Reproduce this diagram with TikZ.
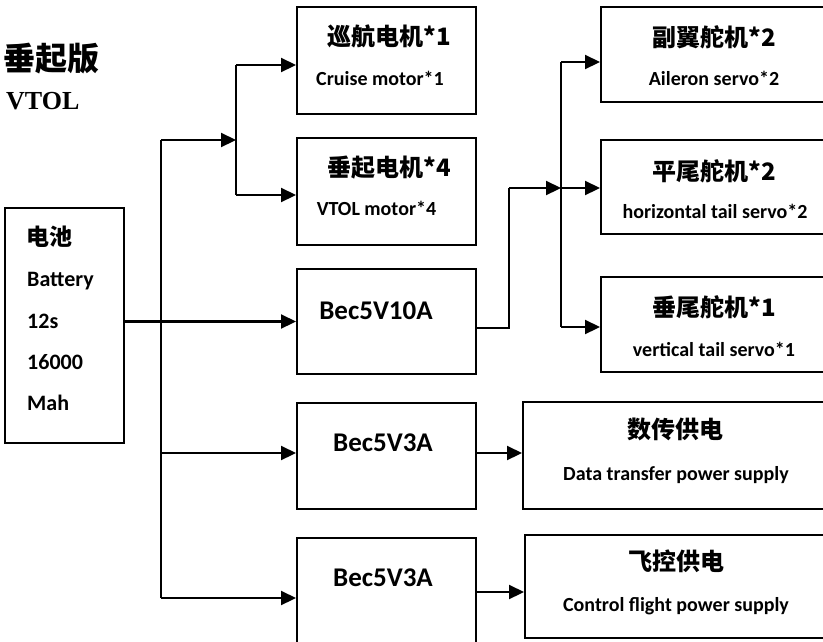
\documentclass[tikz,border=0pt]{standalone}
\usepackage{fontspec}
\setmainfont{Carlito}
\newfontfamily\cjk{Noto Sans CJK SC}
\newfontfamily\tnr{Liberation Serif}
\usetikzlibrary{arrows.meta}
\tikzset{
  box/.style={draw, line width=2pt, inner sep=0pt},
  arr/.style={line width=2.2pt, -{Triangle[length=15pt,width=14pt]}},
  ln/.style={line width=2.2pt},
  lbl/.style={inner sep=0pt, text height=0.62em, text depth=0pt, font=\fontsize{20}{24}\selectfont\bfseries},
  zh/.style={inner sep=0pt, text height=0.74em, text depth=0pt, font=\fontsize{24}{28}\selectfont\bfseries\cjk},
  big/.style={inner sep=0pt, text height=0.62em, text depth=0pt, font=\fontsize{27}{32}\selectfont\bfseries},
  bat/.style={inner sep=0pt, anchor=west, text height=0.62em, text depth=0pt, font=\fontsize{22}{26}\selectfont\bfseries},
}
\begin{document}
\begin{tikzpicture}[x=1pt, y=-1pt]
\useasboundingbox (0,0) rectangle (823,641);
\clip (0,0) rectangle (823,641);
% title
\node[inner sep=0pt, anchor=west, text height=0.76em, text depth=0pt, font=\fontsize{32}{36}\selectfont\bfseries] (t1) at (3,67) {\cjk 垂起版};
\node[inner sep=0pt, anchor=west, text height=0.66em, text depth=0pt, font=\fontsize{26}{30}\selectfont\bfseries\tnr] (t2) at (6,106.5) {VTOL};
% boxes
\node[box, minimum width=119pt, minimum height=235pt] (bat) at (64.5,325.5) {};
\node[box, minimum width=179pt, minimum height=107pt] (cru) at (386.5,60.5) {};
\node[box, minimum width=179pt, minimum height=107pt] (vtm) at (386.5,191.5) {};
\node[box, minimum width=179pt, minimum height=105pt] (b10) at (386.5,321.5) {};
\node[box, minimum width=179pt, minimum height=106pt] (b31) at (386.5,456) {};
\node[box, minimum width=179pt, minimum height=122pt] (b32) at (386.5,599) {};
\node[box, minimum width=239pt, minimum height=95pt] (ail) at (720.5,54.5) {};
\node[box, minimum width=239pt, minimum height=94pt] (hor) at (720.5,187) {};
\node[box, minimum width=239pt, minimum height=95pt] (ver) at (720.5,324.5) {};
\node[box, minimum width=317pt, minimum height=107pt] (dat) at (681.5,455.5) {};
\node[box, minimum width=315pt, minimum height=103pt] (ctl) at (682.5,586.5) {};
% texts
\node[bat] (bt1) at (26,242) {\cjk\fontsize{23}{26}\selectfont 电池};
\node[bat] (bt2) at (27,283) {Battery};
\node[bat] (bt3) at (27,325) {12s};
\node[bat] (bt4) at (27,366) {16000};
\node[bat] (bt5) at (27,407) {Mah};
\node[zh] (cru1) at (389,42) {巡航电机*1};
\node[lbl] (cru2) at (380,82) {Cruise motor*1};
\node[zh] (vtm1) at (389,173) {垂起电机*4};
\node[lbl] (vtm2) at (376.5,212) {VTOL motor*4};
\node[big] (b10t) at (376,316) {Bec5V10A};
\node[big] (b31t) at (383,448) {Bec5V3A};
\node[big] (b32t) at (383,583) {Bec5V3A};
\node[zh] (ail1) at (714,43) {副翼舵机*2};
\node[lbl] (ail2) at (714,82) {Aileron servo*2};
\node[zh] (hor1) at (714,177) {平尾舵机*2};
\node[lbl] (hor2) at (715,215) {horizontal tail servo*2};
\node[zh] (ver1) at (714,313) {垂尾舵机*1};
\node[lbl] (ver2) at (714,353) {vertical tail servo*1};
\node[zh] (dat1) at (675,435) {数传供电};
\node[lbl] (dat2) at (676,477) {Data transfer power supply};
\node[zh] (ctl1) at (676,567) {飞控供电};
\node[lbl] (ctl2) at (676,608) {Control flight power supply};
% junction coordinates
\coordinate (j0) at (161,140);
\coordinate (j1) at (236,140);
\coordinate (c1) at (236,65);
\coordinate (c2) at (236,195);
\coordinate (s1) at (161,453);
\coordinate (s2) at (161,598);
\coordinate (o2) at (476,592);
\coordinate (k0) at (509,328);
\coordinate (k1) at (509,188);
\coordinate (k2) at (561,188);
\coordinate (k3) at (561,62);
\coordinate (k4) at (561,327);
% connectors
\draw[arr] (bat.east |- b10.west) -- (b10.west);
\draw[ln] (j0) -- (s2);
\draw[arr] (j0) -- (j1);
\draw[ln] (c1) -- (c2);
\draw[arr] (c1) -- (cru.west |- c1);
\draw[arr] (c2) -- (vtm.west |- c2);
\draw[arr] (s1) -- (b31.west |- s1);
\draw[arr] (s2) -- (b32.west |- s2);
\draw[arr] (b31.east |- s1) -- (dat.west |- s1);
\draw[arr] (o2) -- (ctl.west |- o2);
\draw[ln] (b10.east |- k0) -- (k0) -- (k1);
\draw[arr] (k1) -- (k2);
\draw[ln] (k3) -- (k4);
\draw[arr] (k3) -- (ail.west |- k3);
\draw[arr] (k2) -- (hor.west |- k2);
\draw[arr] (k4) -- (ver.west |- k4);
\end{tikzpicture}
\end{document}
